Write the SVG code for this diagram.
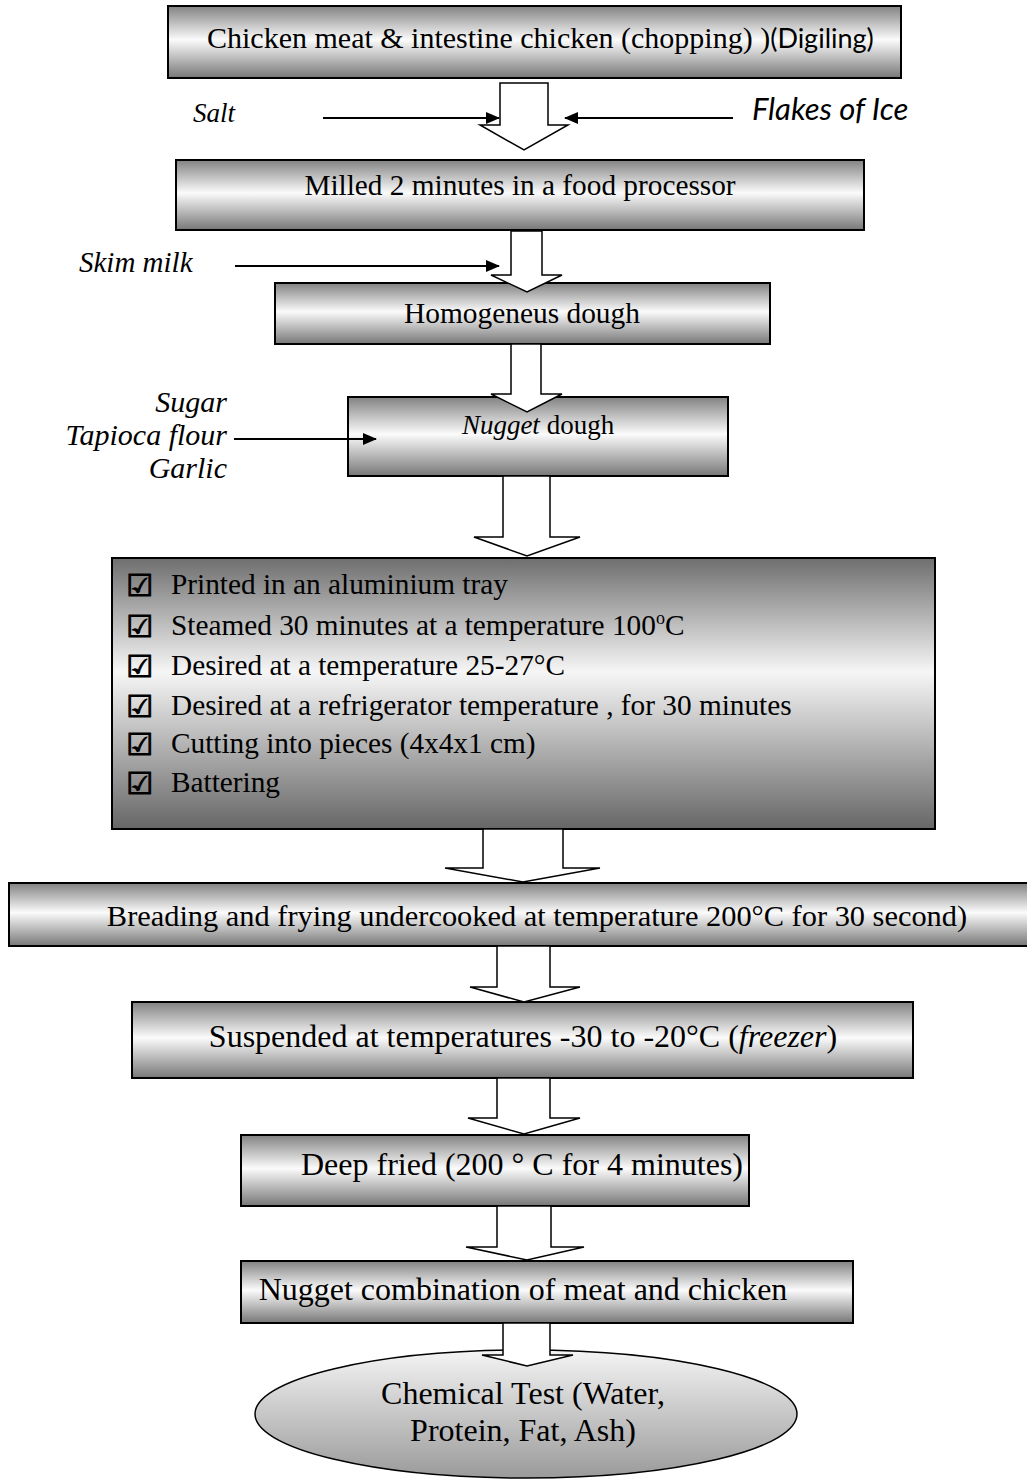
<svg xmlns="http://www.w3.org/2000/svg" width="1027" height="1480" viewBox="0 0 1027 1480">
<defs>
<linearGradient id="gb" x1="0" y1="0" x2="0" y2="1">
<stop offset="0" stop-color="#828282"/>
<stop offset="0.47" stop-color="#fbfbfb"/>
<stop offset="1" stop-color="#777777"/>
</linearGradient>
<linearGradient id="gd" x1="0" y1="0" x2="0" y2="1">
<stop offset="0" stop-color="#6e6e6e"/>
<stop offset="0.42" stop-color="#f6f6f6"/>
<stop offset="1" stop-color="#666666"/>
</linearGradient>
<linearGradient id="ge" x1="0" y1="0" x2="0" y2="1">
<stop offset="0" stop-color="#f4f4f4"/>
<stop offset="1" stop-color="#9a9a9a"/>
</linearGradient>
<marker id="ah" markerWidth="14" markerHeight="12" refX="13" refY="6" orient="auto" markerUnits="userSpaceOnUse">
<path d="M0,0 L14,6 L0,12 Z" fill="#000"/>
</marker>
</defs>
<style>
.box{fill:url(#gb);stroke:#000;stroke-width:2}
.dbox{fill:url(#gd);stroke:#000;stroke-width:2}
.t{font-family:"Liberation Serif","Times New Roman",serif;fill:#000}
.s{font-family:Lato,"Liberation Sans",sans-serif;fill:#000}
.c{text-anchor:middle}
.it{font-style:italic}
.blk{fill:#fff;stroke:#000;stroke-width:1.5}
.ln{stroke:#000;stroke-width:2;fill:none;marker-end:url(#ah)}
.ck{font-family:"DejaVu Sans",sans-serif;font-size:30px;fill:#000;stroke:#000;stroke-width:1}
</style>
<rect width="1027" height="1480" fill="#fff"/>

<g id="n1">
<rect class="box" x="168" y="6" width="733" height="72"/>
<text class="t" x="207" y="48" font-size="30">Chicken meat &amp; intestine chicken (chopping) )<tspan class="s" font-size="27">(Digiling)</tspan></text>
</g>
<g id="n2">
<rect class="box" x="176" y="160" width="688" height="70"/>
<text class="t c" x="520" y="195" font-size="29.3">Milled 2 minutes in a food processor</text>
</g>
<g id="n3">
<rect class="box" x="275" y="283" width="495" height="61"/>
<text class="t c" x="522" y="323" font-size="29.4">Homogeneus dough</text>
</g>
<g id="n4">
<rect class="box" x="348" y="397" width="380" height="79"/>
<text class="t c" x="538" y="434" font-size="27"><tspan class="it">Nugget</tspan> dough</text>
</g>
<g id="n5">
<rect class="dbox" x="112" y="558" width="823" height="271"/>
<g class="ck">
<text x="126" y="596">☑</text>
<text x="126" y="637">☑</text>
<text x="126" y="677">☑</text>
<text x="126" y="717">☑</text>
<text x="126" y="755">☑</text>
<text x="126" y="794">☑</text>
</g>
<g class="t" font-size="29.3">
<text x="171" y="594">Printed in an aluminium tray</text>
<text x="171" y="635">Steamed 30 minutes at  a temperature 100<tspan font-size="18" dy="-11">o</tspan><tspan dy="11">C</tspan></text>
<text x="171" y="675">Desired at a temperature  25-27°C</text>
<text x="171" y="715">Desired at a refrigerator temperature , for 30 minutes</text>
<text x="171" y="753">Cutting into pieces (4x4x1 cm)</text>
<text x="171" y="792">Battering</text>
</g>
</g>
<g id="n6">
<rect class="box" x="9" y="883" width="1025" height="63"/>
<text class="t c" x="537" y="926" font-size="30.4">Breading and frying undercooked at temperature 200°C for 30 second)</text>
</g>
<g id="n7">
<rect class="box" x="132" y="1002" width="781" height="76"/>
<text class="t c" x="523" y="1047" font-size="32">Suspended at temperatures -30 to -20°C (<tspan class="it">freezer</tspan>)</text>
</g>
<g id="n8">
<rect class="box" x="241" y="1135" width="508" height="71"/>
<text class="t c" x="522" y="1175" font-size="32">Deep fried (200 ° C for 4 minutes)</text>
</g>
<g id="n9">
<rect class="box" x="241" y="1261" width="612" height="62"/>
<text class="t c" x="523" y="1300" font-size="32">Nugget combination of meat and chicken</text>
</g>
<g id="n10">
<ellipse cx="526" cy="1414" rx="271" ry="64" fill="url(#ge)" stroke="#000" stroke-width="1.5"/>
<text class="t c" x="523" y="1404" font-size="32">Chemical Test (Water,</text>
<text class="t c" x="523" y="1441" font-size="32">Protein, Fat, Ash)</text>
</g>

<g id="labels">
<text class="t it" x="193" y="122" font-size="27">Salt</text>
<text class="s it" x="752" y="120" font-size="31">Flakes of Ice</text>
<text class="t it" x="79" y="272" font-size="29">Skim milk</text>
<text class="t it" x="227" y="412" font-size="30" text-anchor="end">Sugar</text>
<text class="t it" x="227" y="445" font-size="30" text-anchor="end">Tapioca flour</text>
<text class="t it" x="227" y="478" font-size="30" text-anchor="end">Garlic</text>
</g>

<g id="connectors">
<line class="ln" x1="323" y1="118" x2="499" y2="118"/>
<line class="ln" x1="733" y1="118" x2="565" y2="118"/>
<line class="ln" x1="235" y1="266" x2="499" y2="266"/>
<line class="ln" x1="234" y1="439" x2="376" y2="439"/>
<polygon class="blk" points="500,83 548,83 548,125 568,125 524,150 480,125 500,125"/>
<polygon class="blk" points="511,231 542,231 542,275 562,275 527,292 491,275 511,275"/>
<polygon class="blk" points="511,344 541,344 541,394 562,394 527,412 491,394 511,394"/>
<polygon class="blk" points="503,476 550,476 550,537 580,537 527,556 474,537 503,537"/>
<polygon class="blk" points="483,829 563,829 563,868 600,868 523,882 445,868 483,868"/>
<polygon class="blk" points="497,946 550,946 550,987 580,987 524,1002 470,987 497,987"/>
<polygon class="blk" points="497,1078 550,1078 550,1118 580,1118 524,1134 468,1118 497,1118"/>
<polygon class="blk" points="497,1206 551,1206 551,1247 584,1247 527,1260 466,1247 497,1247"/>
<polygon class="blk" points="503,1323 550,1323 550,1355 573,1355 527,1366 482,1355 503,1355"/>
</g>
</svg>
